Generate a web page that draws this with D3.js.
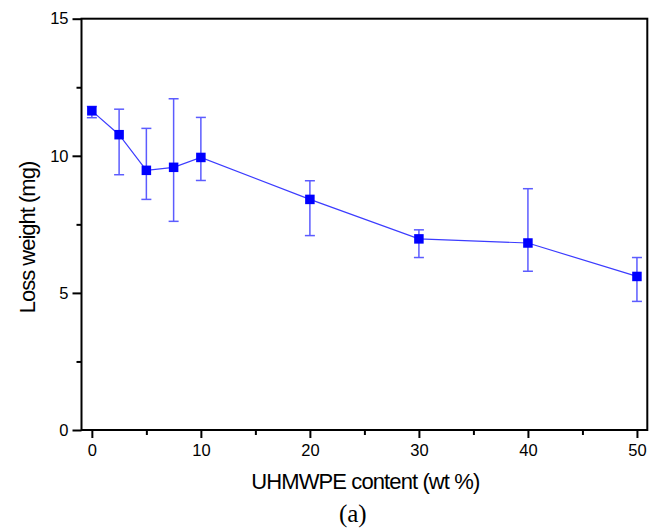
<!DOCTYPE html>
<html>
<head>
<meta charset="utf-8">
<script src="https://cdn.jsdelivr.net/npm/d3@7"></script>
<style>
  html, body { margin: 0; padding: 0; background: #fff; }
  svg { display: block; }
</style>
</head>
<body>
<svg id="chart" width="649" height="529"></svg>
<script>
// UHMWPE content (wt %) and measured weight loss (mg)
const content = [0, 2.5, 5, 7.5, 10, 20, 30, 40, 50];
const lossWeight = [11.64, 10.77, 9.47, 9.58, 9.94, 8.41, 6.97, 6.82, 5.60];
// upper and lower ends of each error bar (mg)
const errHigh = [11.8, 11.70, 11.00, 12.08, 11.40, 9.09, 7.30, 8.80, 6.29];
const errLow = [11.39, 9.31, 8.41, 7.61, 9.10, 7.09, 6.29, 5.79, 4.69];

const xMajor = [0, 10, 20, 30, 40, 50];
const xMinor = [5, 15, 25, 35, 45];
const yMajor = [0, 5, 10, 15];
const yMinor = [2.5, 7.5, 12.5];

const xTitle = "UHMWPE content (wt %)";
const yTitle = "Loss weight (mg)";
const caption = "(a)";

const svg = d3.select("#chart");
const plot = { left: 81.5, top: 18.7, right: 647.3, bottom: 430 };

const x = d3.scaleLinear().domain([-0.95, 50.95]).range([plot.left, plot.right]);
const y = d3.scaleLinear().domain([0, 15]).range([plot.bottom, plot.top]);

const sans = "'Liberation Sans', Arial, sans-serif";

// minor ticks
svg.append("g")
  .attr("transform", `translate(0,${plot.bottom})`)
  .call(d3.axisBottom(x).tickValues(xMinor).tickSize(5).tickFormat(""))
  .call(g => g.select(".domain").remove())
  .call(g => g.selectAll("line").attr("stroke", "#000").attr("stroke-width", 2));
svg.append("g")
  .attr("transform", `translate(${plot.left},0)`)
  .call(d3.axisLeft(y).tickValues(yMinor).tickSize(5).tickFormat(""))
  .call(g => g.select(".domain").remove())
  .call(g => g.selectAll("line").attr("stroke", "#000").attr("stroke-width", 2));

// major ticks with labels
svg.append("g")
  .attr("transform", `translate(0,${plot.bottom})`)
  .call(d3.axisBottom(x).tickValues(xMajor).tickSize(8).tickPadding(6).tickFormat(d3.format("d")))
  .call(g => g.select(".domain").remove())
  .call(g => g.selectAll("line").attr("stroke", "#000").attr("stroke-width", 2))
  .call(g => g.selectAll("text").attr("fill", "#000").style("font-family", sans).style("font-size", "16.5px"));
svg.append("g")
  .attr("transform", `translate(${plot.left},0)`)
  .call(d3.axisLeft(y).tickValues(yMajor).tickSize(9).tickPadding(4).tickFormat(d3.format("d")))
  .call(g => g.select(".domain").remove())
  .call(g => g.selectAll("line").attr("stroke", "#000").attr("stroke-width", 2))
  .call(g => g.selectAll("text").attr("fill", "#000").style("font-family", sans).style("font-size", "16.5px"));

// frame
svg.append("rect")
  .attr("x", plot.left).attr("y", plot.top)
  .attr("width", plot.right - plot.left).attr("height", plot.bottom - plot.top)
  .attr("fill", "none").attr("stroke", "#000").attr("stroke-width", 2);

const data = content.map((c, i) => ({ c, v: lossWeight[i], hi: errHigh[i], lo: errLow[i] }));

// error bars
const eb = svg.append("g").attr("stroke", "#5c5cff").attr("stroke-width", 1.5).attr("fill", "none");
const capHalf = 5;
data.forEach(d => {
  eb.append("line").attr("x1", x(d.c)).attr("x2", x(d.c)).attr("y1", y(d.hi)).attr("y2", y(d.lo));
  eb.append("line").attr("x1", x(d.c) - capHalf).attr("x2", x(d.c) + capHalf).attr("y1", y(d.hi)).attr("y2", y(d.hi));
  eb.append("line").attr("x1", x(d.c) - capHalf).attr("x2", x(d.c) + capHalf).attr("y1", y(d.lo)).attr("y2", y(d.lo));
});

// connecting line
svg.append("path")
  .datum(data)
  .attr("fill", "none")
  .attr("stroke", "#3c3cff")
  .attr("stroke-width", 1.2)
  .attr("d", d3.line().x(d => x(d.c)).y(d => y(d.v)));

// square markers
const ms = 9.5;
svg.append("g").selectAll("rect")
  .data(data)
  .join("rect")
  .attr("x", d => x(d.c) - ms / 2)
  .attr("y", d => y(d.v) - ms / 2)
  .attr("width", ms).attr("height", ms)
  .attr("fill", "#0000ff");

// axis titles
svg.append("text")
  .attr("x", 365.3).attr("y", 489.3)
  .attr("text-anchor", "middle")
  .style("font-family", sans).style("font-size", "22px").style("letter-spacing", "-0.9px")
  .text(xTitle);

svg.append("text")
  .attr("transform", "translate(35,237.5) rotate(-90)")
  .attr("text-anchor", "middle")
  .style("font-family", sans).style("font-size", "22px").style("letter-spacing", "-1px")
  .text(yTitle);

svg.append("text")
  .attr("x", 352.8).attr("y", 521.5)
  .attr("text-anchor", "middle")
  .style("font-family", "'Liberation Serif', 'Times New Roman', serif").style("font-size", "25px")
  .text(caption);
</script>
</body>
</html>
